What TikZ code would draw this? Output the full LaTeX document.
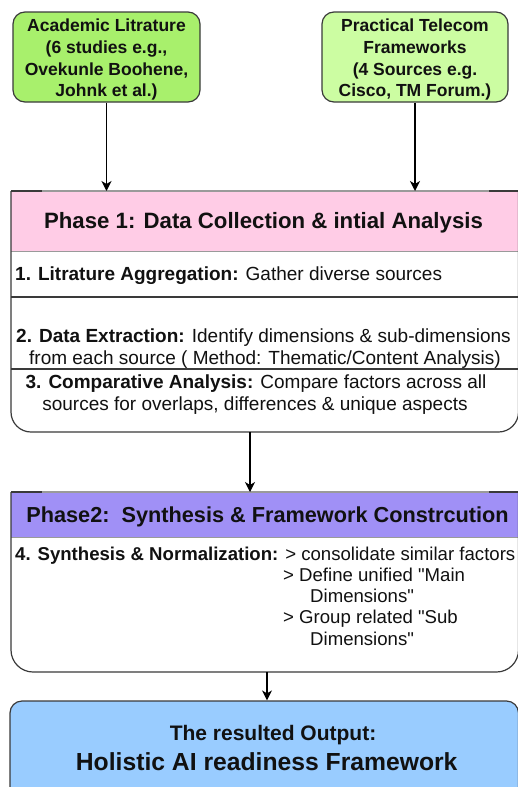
\documentclass[tikz,border=0pt]{standalone}
\usepackage{fontspec}
\setmainfont{Liberation Sans}
\usetikzlibrary{arrows.meta}

\definecolor{srcA}{HTML}{A8F06C}
\definecolor{srcB}{HTML}{CCFDA2}
\definecolor{pinkhd}{HTML}{FFCCE6}
\definecolor{purphd}{HTML}{A090F6}
\definecolor{outblue}{HTML}{99CCFF}
\definecolor{edge}{HTML}{3A3A3A}
\definecolor{softedge}{HTML}{9A9A9A}
\definecolor{txt}{HTML}{111111}

\newcommand\srcfont{\fontsize{17.5}{22}\selectfont\bfseries}
\newcommand\hdfontA{\fontsize{22.2}{26}\selectfont\bfseries}
\newcommand\hdfontB{\fontsize{21.7}{26}\selectfont\bfseries}
\newcommand\bodyfont{\fontsize{19}{22}\selectfont}
\newcommand\bodyfontB{\fontsize{18.6}{22}\selectfont}
\newcommand\qq{\textquotedbl}

\begin{document}
\begin{tikzpicture}[x=1pt,y=-1pt,
  srcbox/.style={draw=edge, line width=1.2pt, rounded corners=12pt, inner sep=0pt},
  area/.style={inner sep=0pt, outer sep=0pt},
  flow/.style={draw=black, line width=1.3pt, -{Stealth[length=10pt,width=10pt,inset=3pt]}},
  border/.style={draw=edge, line width=1.2pt},
  topedge/.style={draw=softedge, line width=1.2pt},
  sep/.style={draw=edge, line width=1.2pt},
  hdsep/.style={draw=softedge, line width=1pt},
  srctxt/.style={inner sep=0pt, anchor=base, text=txt, font=\srcfont},
  hdtxt/.style={inner sep=0pt, anchor=base, text=txt},
  bodytxt/.style={inner sep=0pt, anchor=base, text=txt, font=\bodyfont},
  bodyleft/.style={bodytxt, anchor=base west},
  listleft/.style={inner sep=0pt, anchor=base west, text=txt, font=\bodyfontB}
]
\clip (0,0) rectangle (518,787);

% ---------- source boxes ----------
\node[srcbox, fill=srcA, minimum width=187pt, minimum height=90pt] (src1) at (106.5,57) {};
\node[srcbox, fill=srcB, minimum width=186pt, minimum height=90pt] (src2) at (415,57) {};

\node[srctxt] (s1a) at (106.5,31) {Academic Litrature};
\node[srctxt] (s1b) at (106.5,53) {(6 studies e.g.,};
\node[srctxt] (s1c) at (106.5,75) {Ovekunle Boohene,};
\node[srctxt] (s1d) at (106.5,96.5) {Johnk et al.)};

\node[srctxt] (s2a) at (415,31) {Practical Telecom};
\node[srctxt] (s2b) at (415,53) {Frameworks};
\node[srctxt] (s2c) at (415,75) {(4 Sources e.g.};
\node[srctxt] (s2d) at (415,96.5) {Cisco, TM Forum.)};

% ---------- phase 1 panel ----------
\node[area, minimum width=507.5pt, minimum height=241pt] (ph1) at (264.75,311.5) {};
\fill[white] (11,191) -- (518.5,191) -- (518.5,412) arc[start angle=0,end angle=90,radius=20]
  -- (31,432) arc[start angle=90,end angle=180,radius=20] -- cycle;
\fill[pinkhd] (11,191) rectangle (518.5,251);
\draw[hdsep] (11,251) -- (518.5,251);
\draw[sep] (11,297) -- (518.5,297);
\draw[sep] (11,369) -- (518.5,369);
\draw[border] (11,191) -- (11,412) arc[start angle=180,end angle=90,radius=20]
  -- (498.5,432) arc[start angle=90,end angle=0,radius=20] -- (518.5,191);
\draw[topedge] (11,191) -- (518.5,191);
\draw[border] (11,191) -- (42,191);
\draw[border] (489,191) -- (518.5,191);

\node[hdtxt, font=\hdfontA] (h1) at (263.5,228.5) {Phase 1: Data Collection \& intial Analysis};
\node[bodyleft] (p1a) at (15,280) {\textbf{1. Litrature Aggregation:} Gather diverse sources};
\node[bodytxt] (p1b) at (263.5,342) {\textbf{2. Data Extraction:} Identify dimensions \& sub-dimensions};
\node[bodytxt] (p1c) at (265,364) {from each source ( Method: Thematic/Content Analysis)};
\node[bodytxt] (p1d) at (256,388.5) {\textbf{3. Comparative Analysis:} Compare factors across all};
\node[bodytxt] (p1e) at (255,410.5) {sources for overlaps, differences \& unique aspects};

% ---------- phase 2 panel ----------
\node[area, minimum width=507.5pt, minimum height=180pt] (ph2) at (264.75,582) {};
\fill[white] (11,492) -- (518.5,492) -- (518.5,650) arc[start angle=0,end angle=90,radius=22]
  -- (33,672) arc[start angle=90,end angle=180,radius=22] -- cycle;
\fill[purphd] (11,492) rectangle (518.5,537);
\draw[hdsep] (11,537) -- (518.5,537);
\draw[border] (11,492) -- (11,650) arc[start angle=180,end angle=90,radius=22]
  -- (496.5,672) arc[start angle=90,end angle=0,radius=22] -- (518.5,492);
\draw[topedge] (11,492) -- (518.5,492);
\draw[border] (11,492) -- (42,492);
\draw[border] (489,492) -- (518.5,492);

\node[hdtxt, font=\hdfontB] (h2) at (267.5,522) {Phase2:\ \ Synthesis \& Framework Constrcution};
\node[listleft] (q1) at (15,560) {\textbf{4. Synthesis \& Normalization:} > consolidate similar factors};
\node[listleft] (q2) at (283,581.5) {> Define unified \qq Main};
\node[listleft] (q3) at (310,602.5) {Dimensions\qq};
\node[listleft] (q4) at (283,623.5) {> Group related \qq Sub};
\node[listleft] (q5) at (310,645) {Dimensions\qq};

% ---------- output box ----------
\node[srcbox, fill=outblue, minimum width=508.5pt, minimum height=99pt] (out) at (264.25,750.5) {};
\node[inner sep=0pt, anchor=base, text=txt, font=\fontsize{21}{25}\selectfont\bfseries] (o1) at (273,740) {The resulted Output:};
\node[inner sep=0pt, anchor=base, text=txt, font=\fontsize{24.7}{29}\selectfont\bfseries] (o2) at (266.7,770) {Holistic AI readiness Framework};

% ---------- connectors ----------
\draw[flow] (src1.south) -- (src1.south |- ph1.north);
\draw[flow] (src2.south) -- (src2.south |- ph1.north);
\draw[flow] ([xshift=-14.75pt]ph1.south) -- ([xshift=-14.75pt]ph2.north);
\draw[flow] ([xshift=2.25pt]ph2.south) -- ([xshift=2.75pt]out.north);
\end{tikzpicture}
\end{document}
